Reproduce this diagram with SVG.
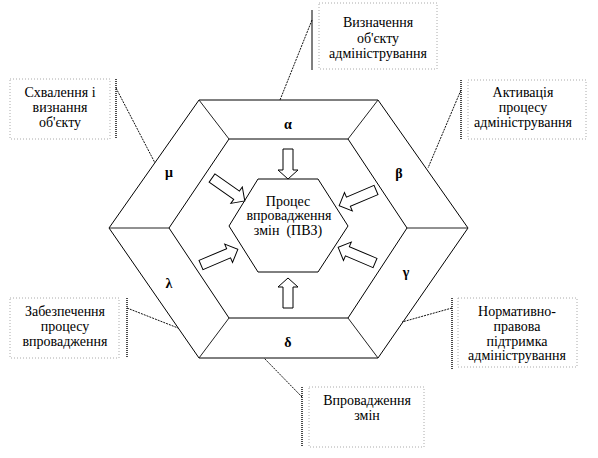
<svg xmlns="http://www.w3.org/2000/svg" width="598" height="458" viewBox="0 0 598 458">
<defs>
<style>
.hex{fill:none;stroke:#000;stroke-width:1}
.div{fill:none;stroke:#222;stroke-width:1}
.t{font-family:'Liberation Serif','DejaVu Serif',serif;font-size:14px;fill:#000;text-anchor:middle}
.g{font-family:'Liberation Serif','DejaVu Serif',serif;font-size:14px;font-weight:bold;fill:#000;text-anchor:middle}
.box{fill:#fff;stroke:#aaa;stroke-width:1;stroke-dasharray:1 2}
.bar{stroke:#111;stroke-width:1.5;stroke-dasharray:1 1;fill:none}
.lead{stroke:#111;stroke-width:1;stroke-dasharray:2 1;fill:none}
.arr{fill:#fff;stroke:#000;stroke-width:1}
</style>
<path id="aS" d="M0,-5 L21,-5 L21,-10 L30,0 L21,10 L21,5 L0,5 Z"/>
<path id="aL" d="M0,-5 L30,-5 L30,-10 L40,0 L30,10 L30,5 L0,5 Z"/>
</defs>
<rect width="598" height="458" fill="#fff"/>
<g id="connectors">
<line class="lead" x1="312" y1="20" x2="280" y2="100"/>
<line class="lead" x1="116" y1="88" x2="155" y2="163"/>
<line class="lead" x1="461" y1="90" x2="428" y2="168"/>
<line class="lead" x1="127" y1="308" x2="178" y2="328"/>
<line class="lead" x1="452" y1="308" x2="402" y2="322"/>
<line class="lead" x1="302" y1="397" x2="264" y2="358"/>
</g>
<g id="hexagon">
<polygon class="hex" points="199,100 378,100 468,228 378,358 199,358 109,228"/>
<polygon class="hex" points="229,139 348,139 407,228 348,318 229,318 169,228"/>
<line class="div" x1="199" y1="100" x2="229" y2="139"/>
<line class="div" x1="378" y1="100" x2="348" y2="139"/>
<line class="div" x1="468" y1="228" x2="407" y2="228"/>
<line class="div" x1="378" y1="358" x2="348" y2="318"/>
<line class="div" x1="199" y1="358" x2="229" y2="318"/>
<line class="div" x1="109" y1="228" x2="169" y2="228"/>
<text class="g" x="288" y="129">α</text>
<text class="g" x="399" y="178">β</text>
<text class="g" x="406" y="277">γ</text>
<text class="g" x="288" y="347">δ</text>
<text class="g" x="169" y="288">λ</text>
<text class="g" x="169" y="177">μ</text>
</g>
<g id="center">
<polygon class="hex" points="258,179 318,179 348,226 318,272 258,272 229,226"/>
<text class="t" x="288" y="206">Процес</text>
<text class="t" x="289" y="220">впровадження</text>
<text class="t" x="288" y="235">змін&#160; (ПВЗ)</text>
</g>
<g id="arrows">
<use href="#aS" class="arr" transform="translate(288,149) rotate(90)"/>
<use href="#aS" class="arr" transform="translate(288,308) rotate(-90)"/>
<use href="#aL" class="arr" transform="translate(212,178) rotate(35)"/>
<use href="#aL" class="arr" transform="translate(376,190) rotate(157)"/>
<use href="#aL" class="arr" transform="translate(201,265) rotate(-23)"/>
<use href="#aL" class="arr" transform="translate(375,263) rotate(203)"/>
</g>
<g id="n-top">
<rect class="box" x="319" y="3" width="118" height="66"/>
<line x1="312" y1="10" x2="312" y2="70" stroke="#000" stroke-width="1"/>
<text class="t" x="378" y="27">Визначення</text>
<text class="t" x="378" y="43">об'єкту</text>
<text class="t" x="378" y="58">адміністрування</text>
</g>
<g id="n-left">
<rect class="box" x="10" y="79" width="100" height="60"/>
<line class="bar" x1="116" y1="79" x2="116" y2="139"/>
<text class="t" x="60" y="97">Схвалення і</text>
<text class="t" x="60" y="112">визнання</text>
<text class="t" x="60" y="127">об'єкту</text>
</g>
<g id="n-right">
<rect class="box" x="468" y="80" width="118" height="59"/>
<line class="bar" x1="461" y1="80" x2="461" y2="139"/>
<text class="t" x="523" y="97">Активація</text>
<text class="t" x="523" y="112">процесу</text>
<text class="t" x="523" y="127">адміністрування</text>
</g>
<g id="n-bottomleft">
<rect class="box" x="10" y="298" width="109" height="60"/>
<line class="bar" x1="127" y1="298" x2="127" y2="358"/>
<text class="t" x="65" y="316">Забезпечення</text>
<text class="t" x="65" y="331">процесу</text>
<text class="t" x="65" y="346">впровадження</text>
</g>
<g id="n-bottomright">
<rect class="box" x="458" y="298" width="119" height="69"/>
<line class="bar" x1="452" y1="298" x2="452" y2="370"/>
<text class="t" x="517" y="316">Нормативно-</text>
<text class="t" x="517" y="331">правова</text>
<text class="t" x="517" y="346">підтримка</text>
<text class="t" x="517" y="360">адміністрування</text>
</g>
<g id="n-bottom">
<rect class="box" x="309" y="387" width="115" height="60"/>
<line class="bar" x1="302" y1="387" x2="302" y2="447"/>
<text class="t" x="367" y="405">Впровадження</text>
<text class="t" x="367" y="420">змін</text>
</g>
</svg>
